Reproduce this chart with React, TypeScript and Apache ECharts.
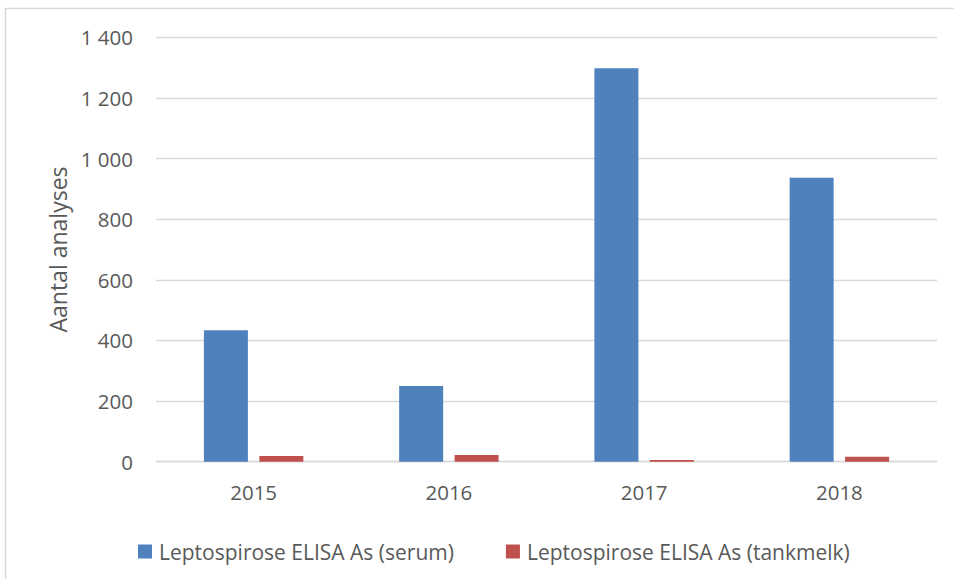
import React, { useEffect, useRef } from "react";
import * as echarts from "echarts";

const categories = ["2015", "2016", "2017", "2018"];
const serumValues = [434, 250, 1298, 937];
const tankmelkValues = [19, 22, 6, 16];
const seriesNames = ["Leptospirose ELISA As (serum)", "Leptospirose ELISA As (tankmelk)"];
const yAxisTitle = "Aantal analyses";

const FONT = "'Open Sans', 'Noto Sans', sans-serif";
const TEXT = "#595959";

export default function App() {
  const ref = useRef<HTMLDivElement>(null);
  useEffect(() => {
    if (!ref.current) return;
    const chart = echarts.init(ref.current, null, { renderer: "svg" });
    chart.setOption({
      animation: false,
      backgroundColor: "#ffffff",
      textStyle: { fontFamily: FONT },
      graphic: [
        {
          type: "rect",
          shape: { x: 5.5, y: 8.5, width: 1000, height: 700 },
          style: { fill: "none", stroke: "#D9D9D9", lineWidth: 1.5 },
          silent: true,
        },
      ],
      grid: { left: 156, right: 17, top: 37.3, bottom: 117.3, containLabel: false },
      legend: {
        left: 133,
        top: 536,
        itemWidth: 14,
        itemHeight: 14,
        itemGap: 52,
        icon: "rect",
        textStyle: { fontFamily: FONT, fontSize: 21, color: TEXT, padding: [0, 0, 0, 2] },
        data: seriesNames,
      },
      xAxis: {
        type: "category",
        data: categories,
        axisLine: { show: true, lineStyle: { color: "#D9D9D9", width: 1.3 } },
        axisTick: { show: false },
        axisLabel: { fontFamily: FONT, fontSize: 20.5, color: TEXT, margin: 20 },
      },
      yAxis: {
        type: "value",
        min: 0,
        max: 1400,
        interval: 200,
        name: yAxisTitle,
        nameLocation: "middle",
        nameGap: 86,
        nameTextStyle: { fontFamily: FONT, fontSize: 23, color: TEXT },
        axisLine: { show: false },
        axisTick: { show: false },
        splitLine: { lineStyle: { color: "#D9D9D9", width: 1.3 } },
        axisLabel: {
          fontFamily: FONT,
          fontSize: 20.5,
          color: TEXT,
          margin: 23,
          formatter: (v: number) => String(v).replace(/\B(?=(\d{3})+(?!\d))/g, " "),
        },
      },
      series: [
        {
          name: seriesNames[0],
          type: "bar",
          data: serumValues,
          barWidth: 44,
          barGap: "26%",
          itemStyle: { color: "#4F81BD" },
        },
        {
          name: seriesNames[1],
          type: "bar",
          data: tankmelkValues,
          barWidth: 44,
          barGap: "26%",
          itemStyle: { color: "#C0504D" },
        },
      ],
    });
    return () => chart.dispose();
  }, []);
  return (
    <div
      ref={ref}
      style={{ position: "fixed", left: 0, top: 0, width: 954, height: 579 }}
    />
  );
}
